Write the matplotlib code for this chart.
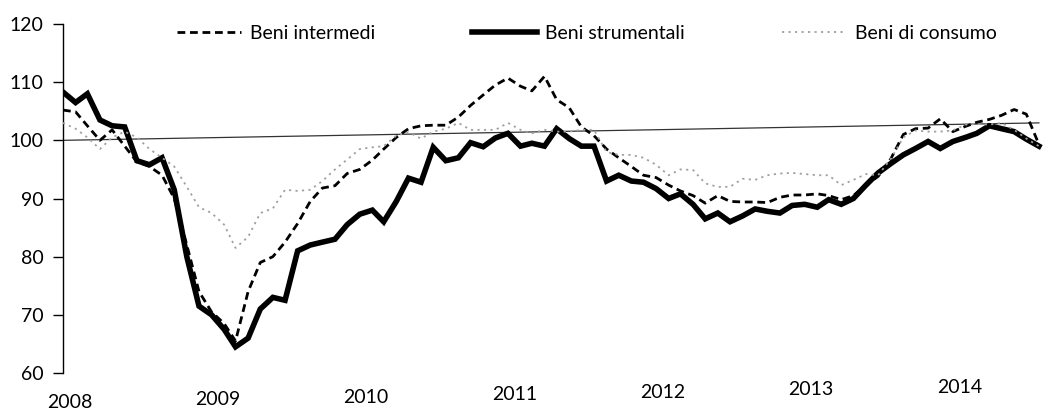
import matplotlib
matplotlib.use("Agg")
import matplotlib.pyplot as plt
from matplotlib.transforms import ScaledTranslation
import pandas as pd

# ---- data (monthly, Jan 2008 - Aug 2014) ----
months = pd.date_range("2008-01-01", periods=80, freq="MS")

beni_intermedi = [
    105.2, 104.9, 102.5, 100.0, 101.8, 99.0, 96.3, 95.5, 94.0, 90.0,
    82.0, 74.0, 70.5, 68.5, 65.5, 74.0, 79.0, 80.0, 82.5, 85.7,
    89.5, 91.8, 92.2, 94.3, 95.0, 96.6, 98.5, 100.5, 102.0, 102.5,
    102.6, 102.6, 104.0, 106.0, 107.8, 109.5, 110.7, 109.3, 108.5, 111.0,
    107.0, 105.6, 102.3, 100.8, 98.5, 97.0, 95.5, 94.0, 93.6, 92.3,
    91.3, 90.5, 89.2, 90.5, 89.5, 89.4, 89.4, 89.3, 90.2, 90.6,
    90.6, 90.8, 90.5, 89.8, 90.5, 92.3, 93.8, 96.8, 101.0, 102.0,
    102.1, 103.7, 101.5, 102.4, 103.1, 103.6, 104.3, 105.3, 104.5, 99.3,
]

beni_strumentali = [
    108.3, 106.5, 108.0, 103.5, 102.5, 102.3, 96.5, 95.8, 97.0, 91.5,
    80.0, 71.5, 70.0, 67.5, 64.5, 66.0, 71.0, 73.0, 72.5, 81.0,
    82.0, 82.5, 83.0, 85.5, 87.3, 88.0, 86.0, 89.5, 93.5, 92.8,
    98.8, 96.5, 97.0, 99.6, 98.9, 100.4, 101.2, 99.0, 99.5, 99.0,
    102.0, 100.3, 99.0, 99.0, 93.0, 94.0, 93.0, 92.8, 91.7, 90.0,
    90.8, 89.0, 86.5, 87.5, 86.0, 87.0, 88.2, 87.8, 87.5, 88.8,
    89.0, 88.5, 89.8, 89.0, 90.0, 92.3, 94.4, 96.0, 97.5, 98.6,
    99.8, 98.6, 99.8, 100.5, 101.2, 102.5, 102.0, 101.5, 100.2, 99.0,
]

beni_consumo = [
    103.0, 102.0, 100.5, 98.5, 100.5, 101.5, 100.5, 98.5, 97.0, 95.5,
    92.0, 88.5, 87.5, 85.5, 81.5, 83.4, 87.5, 88.3, 91.5, 91.3,
    91.5, 93.0, 95.0, 96.7, 98.5, 98.8, 99.0, 100.8, 101.4, 100.3,
    101.5, 102.0, 103.0, 101.8, 101.8, 101.8, 103.0, 101.8, 101.2, 101.8,
    101.5, 101.5, 101.8, 101.8, 98.0, 97.5, 97.5, 97.0, 95.8, 94.0,
    95.0, 94.9, 92.6, 92.0, 92.0, 93.4, 93.2, 94.0, 94.3, 94.4,
    94.2, 94.0, 94.0, 92.3, 93.2, 94.2, 94.0, 96.8, 100.5, 101.7,
    101.5, 101.5, 101.7, 102.7, 102.8, 102.7, 103.0, 101.8, 100.3, 99.0,
]

# reference (base 100) line as it appears in the scanned picture
riferimento_x = [months[0], months[-1]]
riferimento_y = [100.0, 103.0]

year_labels = ["2008", "2009", "2010", "2011", "2012", "2013", "2014"]
y_ticks = [60, 70, 80, 90, 100, 110, 120]

FONT = ["Lato", "DejaVu Sans"]
plt.rcParams["font.family"] = FONT
FS = 14

fig = plt.figure(figsize=(10.45, 4.16), dpi=100)
ax = fig.add_axes([63 / 1045, 1 - 373 / 416, (1045 - 63) / 1045, (373 - 24) / 416])

ax.plot(riferimento_x, riferimento_y, color="#333333", lw=0.9, zorder=1)

l_int, = ax.plot(months, beni_intermedi, color="black", lw=2.0,
                 dashes=(2.8, 1.7), label="Beni intermedi", zorder=3)
l_str, = ax.plot(months, beni_strumentali, color="black", lw=4.0,
                 solid_joinstyle="miter", label="Beni strumentali", zorder=2)
l_con, = ax.plot(months, beni_consumo, color="#a0a0a0", lw=1.3,
                 linestyle=(0, (1.2, 2.4)), label="Beni di consumo", zorder=4)

ax.set_ylim(60, 120)
ax.set_yticks(y_ticks)
ax.set_xlim(months[0], months[-1] + pd.Timedelta(days=15))

year_pos = [pd.Timestamp(f"{y}-01-17") for y in year_labels]
ax.set_xticks(year_pos)
ax.set_xticklabels(year_labels)

for s in ["top", "right", "bottom"]:
    ax.spines[s].set_visible(False)
ax.spines["left"].set_linewidth(1.0)
ax.tick_params(axis="y", direction="out", length=7, width=1.0, pad=7,
               labelsize=FS)
ax.tick_params(axis="x", length=0, pad=15, labelsize=FS)

# the scanned original is slightly tilted: year labels drift upward to the right
for k, lbl in enumerate(ax.get_xticklabels()):
    lbl.set_transform(lbl.get_transform() +
                      ScaledTranslation(0, 1.8 * k / 72, fig.dpi_scale_trans))

fig.legend(handles=[l_int, l_str, l_con], loc="upper left",
           bbox_to_anchor=(177 / 1045, 1 - 25 / 416), ncol=3, frameon=False,
           fontsize=FS, handlelength=3.3, handletextpad=0.45,
           columnspacing=5.0, borderpad=0, borderaxespad=0)

fig.savefig("out.png", dpi=100, facecolor="white")
